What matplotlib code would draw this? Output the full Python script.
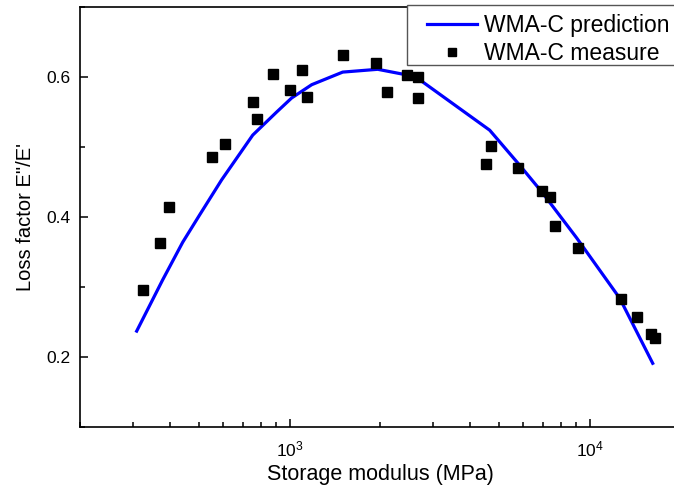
import matplotlib
matplotlib.use("Agg")
import matplotlib.pyplot as plt
from matplotlib.patches import Rectangle
from matplotlib.ticker import MultipleLocator, LogLocator

plt.rcParams['font.family'] = ['Liberation Sans', 'DejaVu Sans']
plt.rcParams['mathtext.fontset'] = 'custom'
plt.rcParams['mathtext.rm'] = 'Liberation Sans'
plt.rcParams['mathtext.it'] = 'Liberation Sans'

# measured points (storage modulus MPa, loss factor)
measure_x = [324, 369, 395, 550, 607, 753, 776, 878, 1000, 1096, 1139, 1502,
             1935, 2105, 2455, 2671, 2671, 4500, 4677, 5754, 6918, 7356, 7640,
             9120, 12690, 14350, 15970, 16470]
measure_y = [0.296, 0.363, 0.414, 0.486, 0.504, 0.564, 0.540, 0.604, 0.581,
             0.610, 0.571, 0.631, 0.620, 0.579, 0.603, 0.600, 0.570, 0.476,
             0.501, 0.470, 0.437, 0.429, 0.387, 0.356, 0.283, 0.257, 0.233,
             0.227]

# prediction curve
pred_x = [309, 377, 440, 501, 593, 753, 905, 1015, 1184, 1502, 1965, 2455,
          2713, 4642, 5843, 6918, 9052, 12590, 16220]
pred_y = [0.237, 0.310, 0.364, 0.403, 0.453, 0.517, 0.550, 0.570, 0.589,
          0.607, 0.611, 0.603, 0.596, 0.524, 0.474, 0.436, 0.370, 0.284,
          0.191]

W, H = 674, 492
fig = plt.figure(figsize=(W / 100, H / 100), dpi=100)
ax = fig.add_axes([80 / W, 65 / H, 600 / W, 420 / H])

ax.plot(pred_x, pred_y, color="#0000ff", lw=2.3, label="WMA-C prediction")
ax.plot(measure_x, measure_y, ls="none", marker="s", ms=6.5, color="black",
        label="WMA-C measure")

ax.set_xscale("log")
ax.set_xlim(200, 20000)
ax.set_ylim(0.1, 0.7)
ax.yaxis.set_major_locator(MultipleLocator(0.2))
ax.yaxis.set_minor_locator(MultipleLocator(0.1))
ax.xaxis.set_minor_locator(LogLocator(base=10, subs=range(2, 10)))
ax.yaxis.set_major_formatter(plt.FuncFormatter(lambda v, p: f"{v:.1f}"))

for s in ax.spines.values():
    s.set_linewidth(1.2)
ax.tick_params(which="both", direction="in", labelsize=12.5, width=1.1)
ax.tick_params(which="major", length=6)
ax.tick_params(which="minor", length=3.5)
ax.tick_params(axis="y", pad=7)
ax.tick_params(axis="x", pad=9)

ax.set_xlabel("Storage modulus (MPa)", fontsize=15.5, labelpad=3)
ax.set_ylabel("Loss factor E\"/E'", fontsize=14.5, labelpad=8)

# legend box drawn by hand so it runs off the right edge like the original
ax.add_patch(Rectangle((407 / W, 1 - 65 / H), 300 / W, 60 / H,
                       transform=fig.transFigure, facecolor="white",
                       edgecolor="#555555", lw=1.0, zorder=5, clip_on=False))
leg = ax.legend(loc="upper left", bbox_to_anchor=(427 / W, 1 - 14 / H),
                bbox_transform=fig.transFigure, fontsize=16.5, frameon=False,
                borderaxespad=0, borderpad=0, handlelength=2.2,
                handletextpad=0.28, labelspacing=0.2, markerscale=0.9)
leg.set_zorder(6)

fig.savefig("out.png", dpi=100)
